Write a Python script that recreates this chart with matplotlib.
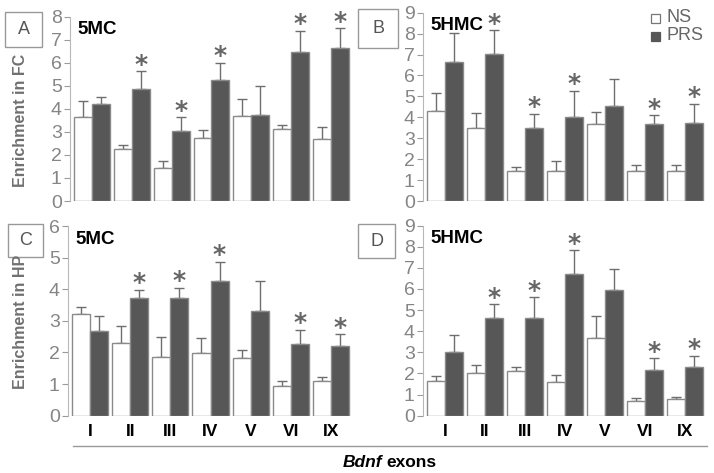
import matplotlib.pyplot as plt
import numpy as np

exons = ['I', 'II', 'III', 'IV', 'V', 'VI', 'IX']

# panel A: 5MC in FC
a_ns = [3.63, 2.24, 1.45, 2.72, 3.68, 3.11, 2.68]
a_ns_top = [4.33, 2.45, 1.72, 3.08, 4.44, 3.29, 3.23]
a_prs = [4.21, 4.85, 3.05, 5.24, 3.72, 6.45, 6.66]
a_prs_top = [4.53, 5.63, 3.63, 6.00, 4.99, 7.40, 7.50]

# panel B: 5HMC in FC
b_ns = [4.28, 3.48, 1.41, 1.41, 3.69, 1.45, 1.45]
b_ns_top = [5.16, 4.20, 1.61, 1.92, 4.25, 1.71, 1.71]
b_prs = [6.63, 7.03, 3.48, 4.01, 4.52, 3.66, 3.75]
b_prs_top = [8.03, 8.16, 4.17, 5.27, 5.85, 4.09, 4.66]

# panel C: 5MC in HP
c_ns = [3.21, 2.29, 1.86, 1.99, 1.84, 0.93, 1.09]
c_ns_top = [3.45, 2.83, 2.48, 2.47, 2.09, 1.09, 1.23]
c_prs = [2.67, 3.72, 3.72, 4.26, 3.30, 2.27, 2.19]
c_prs_top = [3.15, 3.98, 4.05, 4.87, 4.27, 2.72, 2.57]

# panel D: 5HMC in HP
d_ns = [1.64, 2.03, 2.10, 1.59, 3.69, 0.71, 0.79]
d_ns_top = [1.89, 2.38, 2.32, 1.94, 4.72, 0.82, 0.90]
d_prs = [3.01, 4.62, 4.62, 6.72, 5.96, 2.18, 2.32]
d_prs_top = [3.82, 5.28, 5.60, 7.84, 6.94, 2.73, 2.84]

signif = [False, True, True, True, False, True, True]

W, H = 714, 473
fig = plt.figure(figsize=(W / 100, H / 100), dpi=100)
plt.rcParams['font.family'] = ['Liberation Sans', 'DejaVu Sans']

edge = '#8a8a8a'
dark = '#575757'
tick_c = '#9a9a9a'


def make_axes(left, right, top, bottom):
    return fig.add_axes([left / W, 1 - bottom / H, (right - left) / W, (bottom - top) / H])


def draw_panel(ax, ns, ns_top, prs, prs_top, ymax, title, letter_box, xlabels):
    x = np.arange(len(exons))
    bw = 0.45
    ax.bar(x - bw / 2, ns, bw, color='white', edgecolor=edge, linewidth=1.0, zorder=2)
    ax.bar(x + bw / 2, prs, bw, color=dark, edgecolor=edge, linewidth=1.0, zorder=2)
    ns_err = np.array(ns_top) - np.array(ns)
    prs_err = np.array(prs_top) - np.array(prs)
    ax.errorbar(x - bw / 2, ns, yerr=[np.zeros(len(ns)), ns_err], fmt='none',
                ecolor='#6e6e6e', elinewidth=1.0, capsize=3.5, capthick=1.0, zorder=1)
    ax.errorbar(x + bw / 2, prs, yerr=[np.zeros(len(prs)), prs_err], fmt='none',
                ecolor='#6e6e6e', elinewidth=1.0, capsize=3.5, capthick=1.0, zorder=1)
    for i, s in enumerate(signif):
        if s:
            ax.annotate('*', (x[i] + bw / 2, prs_top[i]), xytext=(0, -4),
                        textcoords='offset points', ha='center', va='bottom',
                        fontsize=18, fontweight='bold', color='#666666', family='DejaVu Sans')
    ax.set_xlim(-0.55, 6.5)
    ax.set_ylim(0, ymax)
    ax.set_yticks(range(0, ymax + 1))
    ax.tick_params(axis='y', colors=tick_c, labelsize=14, length=4, width=0.8, pad=2)
    for lab in ax.get_yticklabels():
        lab.set_color('#858585')
    ax.spines['left'].set_color('#b8b8b8')
    for sp in ['top', 'right', 'bottom']:
        ax.spines[sp].set_visible(False)
    ax.set_xticks(x)
    if xlabels:
        ax.set_xticklabels(exons, fontsize=12.5, fontweight='bold')
        ax.tick_params(axis='x', length=0, pad=6)
    else:
        ax.set_xticklabels([])
        ax.tick_params(axis='x', length=0)
    ax.text(0.025, 0.93, title, transform=ax.transAxes, fontsize=13.5,
            fontweight='bold', va='center', ha='left')
    bx0, by0, bx1, by1, letter = letter_box
    fig.patches.append(plt.Rectangle((bx0 / W, 1 - by1 / H), (bx1 - bx0) / W, (by1 - by0) / H,
                                     transform=fig.transFigure, fill=True, facecolor='white',
                                     edgecolor='#999999', linewidth=1.0))
    fig.text((bx0 + bx1) / 2 / W, 1 - (by0 + by1) / 2 / H, letter, ha='center', va='center',
             fontsize=13, color='#555555')


axA = make_axes(70, 351, 16.7, 201)
draw_panel(axA, a_ns, a_ns_top, a_prs, a_prs_top, 8, '5MC', (5, 12, 42, 47, 'A'), False)
axB = make_axes(423, 705, 12.7, 201)
draw_panel(axB, b_ns, b_ns_top, b_prs, b_prs_top, 9, '5HMC', (358, 9, 398, 48, 'B'), False)
axC = make_axes(68, 351, 226, 415.7)
draw_panel(axC, c_ns, c_ns_top, c_prs, c_prs_top, 6, '5MC', (8, 224, 43, 257, 'C'), True)
axD = make_axes(423, 705, 225.6, 415.7)
draw_panel(axD, d_ns, d_ns_top, d_prs, d_prs_top, 9, '5HMC', (358, 224, 395, 258, 'D'), True)

# legend in panel B
fig.patches.append(plt.Rectangle((651 / W, 1 - 23 / H), 9 / W, 9 / H, transform=fig.transFigure,
                                 facecolor='white', edgecolor='#777777', linewidth=0.9))
fig.patches.append(plt.Rectangle((651 / W, 1 - 41 / H), 9 / W, 9 / H, transform=fig.transFigure,
                                 facecolor=dark, edgecolor=dark, linewidth=0.9))
fig.text(666 / W, 1 - 18 / H, 'NS', fontsize=13, color='#666666', va='center')
fig.text(666 / W, 1 - 36 / H, 'PRS', fontsize=13, color='#666666', va='center')

# y labels
fig.text(21 / W, 1 - 120 / H, 'Enrichment in FC', rotation=90, ha='center', va='center',
         fontsize=11.5, fontweight='bold', color='#707070')
fig.text(21 / W, 1 - 322 / H, 'Enrichment in HP', rotation=90, ha='center', va='center',
         fontsize=11.5, fontweight='bold', color='#707070')

# bottom line and label
fig.add_artist(plt.Line2D([73 / W, 707 / W], [1 - 446 / H, 1 - 446 / H],
                          transform=fig.transFigure, color='#999999', linewidth=1.0))
fig.text(382 / W, 1 - 462 / H, 'Bdnf', fontsize=12.5, fontweight='bold', style='italic',
         ha='right', va='center')
fig.text(386 / W, 1 - 462 / H, 'exons', fontsize=12.5, fontweight='bold', ha='left', va='center')

fig.savefig('out.png', dpi=100)
